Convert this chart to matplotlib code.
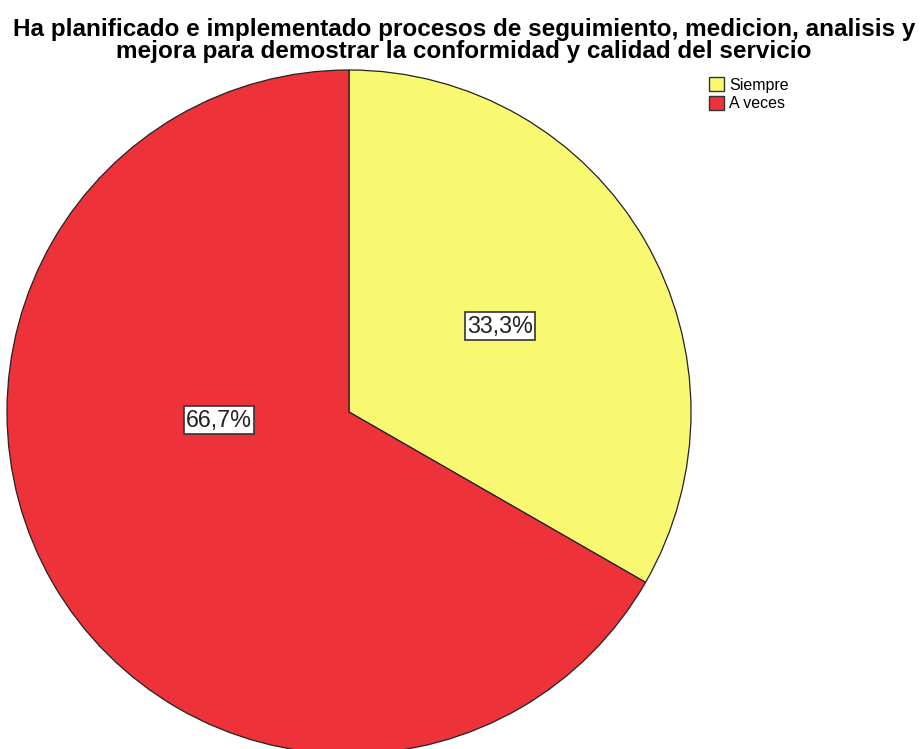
import matplotlib.pyplot as plt
from matplotlib.patches import Patch

plt.rcParams['font.family'] = ['Liberation Sans', 'DejaVu Sans']

categorias = ['Siempre', 'A veces']
porcentajes = [33.3, 66.7]
colores = ['#F9F871', '#EE3239']
titulo = ('Ha planificado e implementado procesos de seguimiento, medicion, analisis y\n'
          'mejora para demostrar la conformidad y calidad del servicio')

W, H = 924, 749
fig = plt.figure(figsize=(W / 100, H / 100), dpi=100)
# pie: centre (349, 412) px, radius 342 px
cx, cy, r = 349, 412, 342
ax = fig.add_axes([(cx - r) / W, (H - cy - r) / H, 2 * r / W, 2 * r / H])

wedges, texts, autotexts = ax.pie(
    porcentajes, colors=colores, startangle=90, counterclock=False,
    radius=1, autopct=lambda p: f'{p:.1f}%'.replace('.', ','), pctdistance=0.51,
    wedgeprops=dict(edgecolor='#222222', linewidth=0.9), frame=False)
ax.set_xlim(-1, 1)
ax.set_ylim(-1, 1)
ax.set_aspect('equal')
ax.axis('off')
for w in wedges:
    w.set_clip_on(False)

# SPSS places the larger label near the centre-left
autotexts[0].set_position(((500 - cx) / r, (cy - 326) / r))
autotexts[1].set_position(((219 - cx) / r, (cy - 420) / r))
for t in autotexts:
    t.set_fontsize(16.8)
    t.set_color('#222222')
    t.set_bbox(dict(facecolor='white', edgecolor='#333333', linewidth=1.2, pad=1.6))

fig.text(0.5 * (10 + 918) / W, 1 - 18 / H, titulo, ha='center', va='top',
         fontsize=17.5, fontweight='bold', linespacing=0.93)

handles = [Patch(facecolor=c, edgecolor='#333333', linewidth=1) for c in colores]
fig.legend(handles, categorias, loc='upper left', bbox_to_anchor=(698 / W, 1 - 66 / H),
           frameon=False, fontsize=11.5, handlelength=0.95, handleheight=0.95,
           handletextpad=0.3, labelspacing=0.2, borderpad=0.2)

fig.savefig('out.png', dpi=100)
